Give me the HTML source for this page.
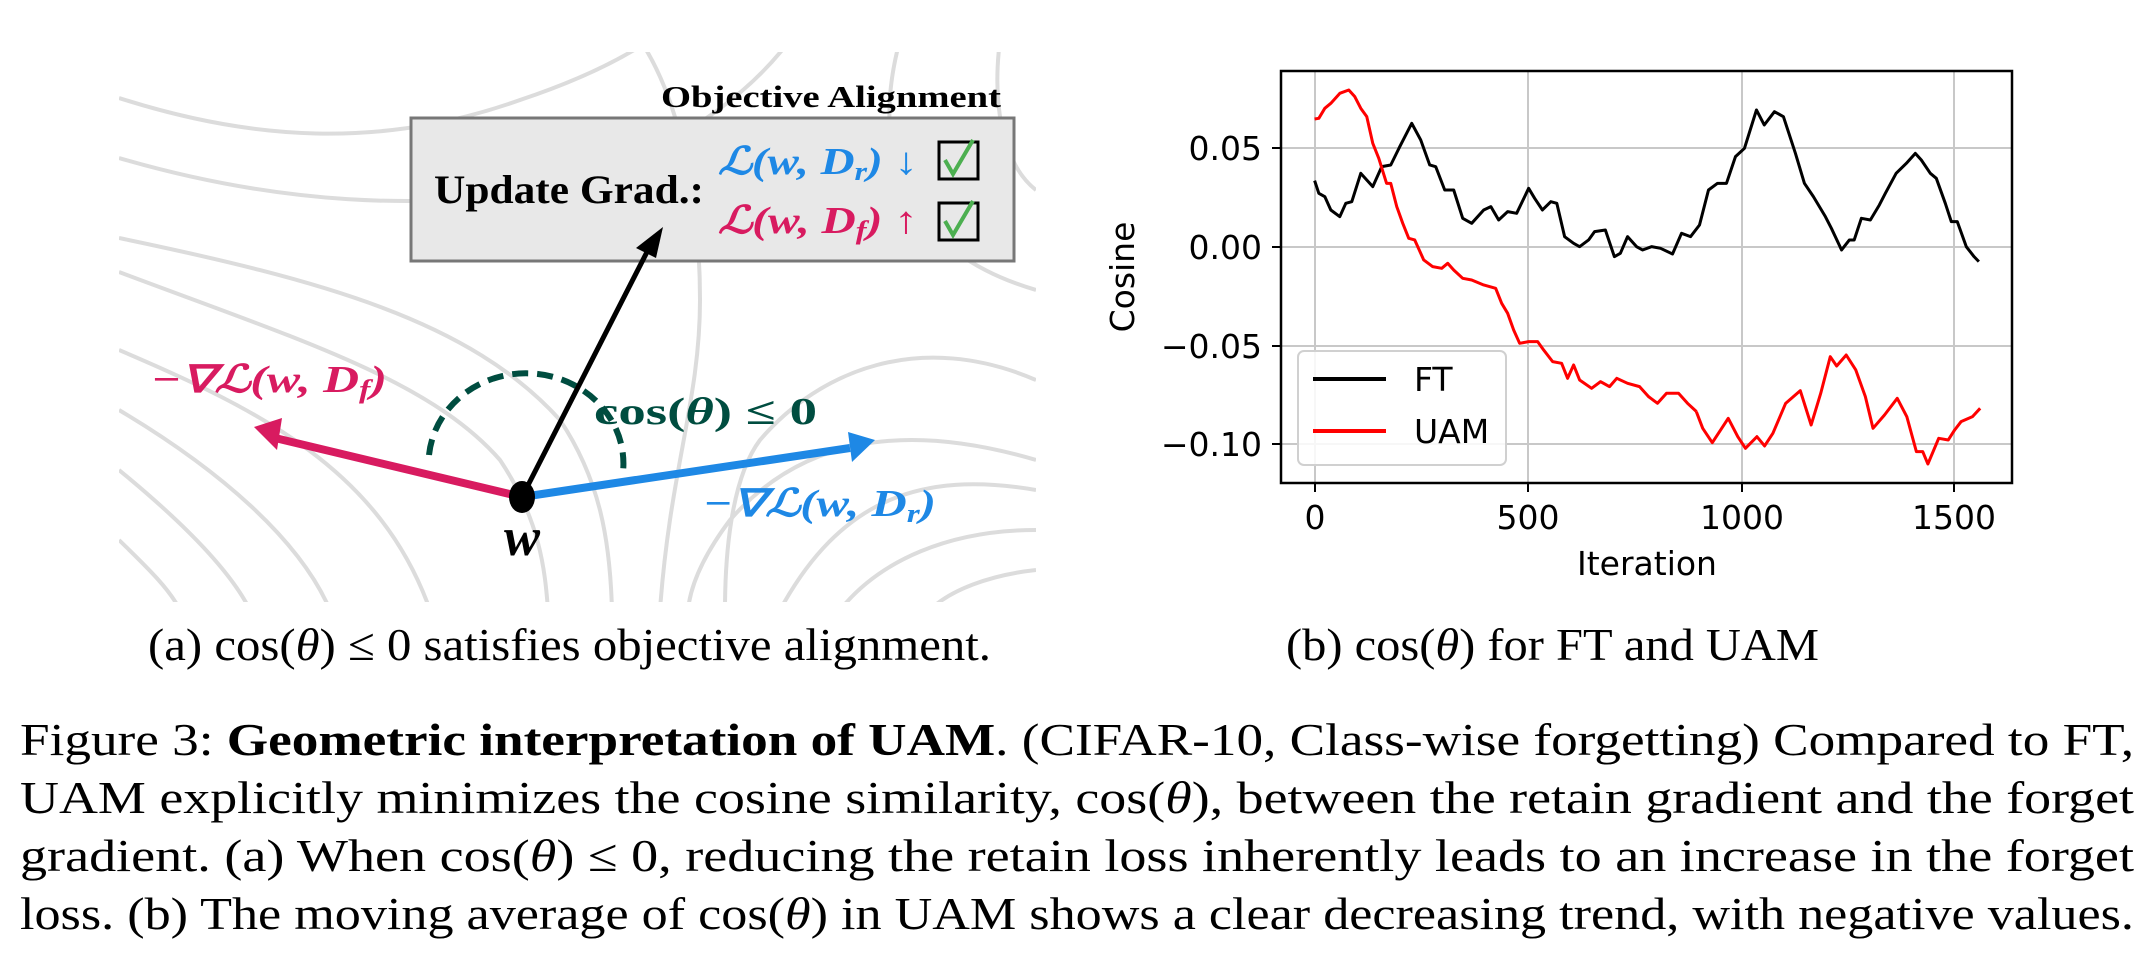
<!DOCTYPE html>
<html><head><meta charset="utf-8"><style>
html,body{margin:0;padding:0;background:#fff;}
body{width:2152px;height:962px;position:relative;overflow:hidden;}
</style></head><body>
<svg width="2152" height="962" style="position:absolute;left:0;top:0">
<defs><clipPath id="cp"><rect x="119" y="52" width="917" height="550"/></clipPath>
<clipPath id="ax"><rect x="1281" y="71" width="731" height="412"/></clipPath></defs>
<g clip-path="url(#cp)" fill="none" stroke="#dcdcdc" stroke-width="4">
<path d="M119,98 C250,140 380,150 520,100 C580,80 620,60 650,40"/>
<path d="M119,158 C280,205 420,210 560,190 C700,140 760,80 790,40"/>
<path d="M119,238 C320,280 470,320 560,420 C600,480 610,540 612,610"/>
<path d="M119,272 C300,340 430,380 500,460 C540,520 545,570 548,610"/>
<path d="M119,350 C260,410 380,470 430,610"/>
<path d="M119,410 C220,470 300,540 330,610"/>
<path d="M119,470 C180,520 230,570 250,610"/>
<path d="M119,540 C150,570 170,590 180,610"/>
<path d="M640,40 C680,100 700,200 700,300 C700,400 670,470 660,610"/>
<path d="M900,40 C870,150 900,250 1036,290"/>
<path d="M1000,40 C990,120 1010,170 1036,190"/>
<path d="M1036,460 C900,420 800,440 730,520 C700,560 690,590 688,610"/>
<path d="M1036,490 C920,470 840,500 780,610"/>
<path d="M1036,530 C950,530 880,560 840,610"/>
<path d="M1036,570 C990,575 950,590 930,610"/>
<path d="M1036,380 C920,330 820,370 760,440 C730,480 725,560 725,610"/>
</g>
<rect x="411" y="118" width="603" height="143" fill="#e8e8e8" stroke="#777" stroke-width="3"/>
<text x="1001" y="107" text-anchor="end" font-family="Liberation Serif,serif" font-weight="bold" font-size="31" textLength="340" lengthAdjust="spacingAndGlyphs">Objective Alignment</text>
<text x="434" y="203" font-family="Liberation Serif,serif" font-weight="bold" font-size="40" textLength="270" lengthAdjust="spacingAndGlyphs">Update Grad.:</text>
<text x="718" y="174" fill="#1e88e5" font-family="Liberation Serif,serif" font-weight="bold" font-style="italic" font-size="38" textLength="200" lengthAdjust="spacingAndGlyphs">ℒ(w, D<tspan font-size="26" dy="6">r</tspan><tspan dy="-6">) ↓</tspan></text>
<text x="718" y="233" fill="#d81b60" font-family="Liberation Serif,serif" font-weight="bold" font-style="italic" font-size="38" textLength="200" lengthAdjust="spacingAndGlyphs">ℒ(w, D<tspan font-size="26" dy="6">f</tspan><tspan dy="-6">) ↑</tspan></text>
<rect x="939" y="142" width="39" height="37" fill="none" stroke="#000" stroke-width="3"/>
<rect x="939" y="203" width="39" height="37" fill="none" stroke="#000" stroke-width="3"/>
<path d="M945,160 l8,14 l20,-34" fill="none" stroke="#4caf50" stroke-width="4"/>
<path d="M945,221 l8,14 l20,-34" fill="none" stroke="#4caf50" stroke-width="4"/>
<path d="M429,455 A95,88 0 0 1 623,472" fill="none" stroke="#004d40" stroke-width="6" stroke-dasharray="16,9"/>
<line x1="522" y1="497" x2="648" y2="250" stroke="#000" stroke-width="5"/>
<polygon points="663,227 636,248 656,258" fill="#000"/>
<line x1="522" y1="497" x2="275" y2="438" stroke="#d81b60" stroke-width="8"/>
<polygon points="254,427 282,418 277,450" fill="#d81b60"/>
<line x1="522" y1="497" x2="850" y2="448" stroke="#1e88e5" stroke-width="8"/>
<polygon points="875,440 848,432 852,462" fill="#1e88e5"/>
<ellipse cx="522" cy="497" rx="13" ry="16" fill="#000"/>
<text x="522" y="555" text-anchor="middle" font-family="Liberation Serif,serif" font-weight="bold" font-style="italic" font-size="54">w</text>
<text x="594" y="424" fill="#004d40" font-family="Liberation Serif,serif" font-weight="bold" font-size="38" textLength="223" lengthAdjust="spacingAndGlyphs">cos(<tspan font-style="italic">θ</tspan>) ≤ 0</text>
<text x="151" y="392" fill="#d81b60" font-family="Liberation Serif,serif" font-weight="bold" font-style="italic" font-size="38" textLength="236" lengthAdjust="spacingAndGlyphs">−∇ℒ(w, D<tspan font-size="26" dy="6">f</tspan><tspan dy="-6">)</tspan></text>
<text x="703" y="516" fill="#1e88e5" font-family="Liberation Serif,serif" font-weight="bold" font-style="italic" font-size="38" textLength="233" lengthAdjust="spacingAndGlyphs">−∇ℒ(w, D<tspan font-size="26" dy="6">r</tspan><tspan dy="-6">)</tspan></text>

<g stroke="#c8c8c8" stroke-width="2">
<line x1="1315" y1="71" x2="1315" y2="483"/><line x1="1528" y1="71" x2="1528" y2="483"/>
<line x1="1742" y1="71" x2="1742" y2="483"/><line x1="1954" y1="71" x2="1954" y2="483"/>
<line x1="1281" y1="148" x2="2012" y2="148"/><line x1="1281" y1="247" x2="2012" y2="247"/>
<line x1="1281" y1="346" x2="2012" y2="346"/><line x1="1281" y1="444" x2="2012" y2="444"/>
</g>
<g clip-path="url(#ax)" fill="none" stroke-width="3" stroke-linejoin="round">
<g transform="translate(1100,40) scale(0.5995,0.3333)">
<polyline vector-effect="non-scaling-stroke" stroke="#000" points="358,422 365,460 375,470 385,510 400,530 410,490 420,485 435,400 455,440 470,380 485,375 500,320 520,250 535,300 550,375 560,380 575,450 590,450 605,535 620,550 640,510 652,500 665,540 680,515 695,520 715,445 725,475 738,510 752,485 762,490 775,590 790,610 800,620 815,600 825,575 843,570 858,650 868,640 880,590 895,620 905,630 920,620 935,625 955,642 970,580 985,590 1000,555 1015,450 1030,430 1045,430 1060,350 1075,325 1095,210 1108,255 1125,215 1140,230 1160,340 1175,430 1190,470 1210,530 1220,565 1237,630 1250,600 1258,600 1270,535 1285,540 1300,495 1310,460 1328,400 1345,370 1360,340 1370,360 1385,400 1395,415 1410,490 1420,545 1430,545 1445,620 1458,650 1466,665"/>
<polyline vector-effect="non-scaling-stroke" stroke="#f00" points="358,237 365,235 375,205 385,190 400,160 415,150 425,170 435,205 445,230 455,310 465,355 478,430 485,430 495,500 505,550 515,595 525,600 540,660 555,680 570,685 580,670 590,690 605,715 620,720 640,735 660,745 670,790 680,820 690,870 700,910 715,905 730,905 740,930 755,965 770,970 780,1015 790,975 800,1020 820,1045 835,1025 850,1040 862,1015 880,1030 900,1040 915,1070 930,1090 945,1060 965,1060 980,1090 995,1115"/>
</g>
<g transform="translate(1100,300) scale(0.6378,0.3333)">
<polyline vector-effect="non-scaling-stroke" stroke="#f00" points="935,335 945,385 960,428 985,355 1000,410 1012,445 1030,410 1042,438 1055,400 1075,310 1098,272 1115,375 1130,280 1145,170 1155,198 1170,165 1185,210 1200,290 1212,385 1230,345 1250,295 1265,350 1280,455 1290,455 1298,492 1315,415 1330,420 1340,390 1350,365 1368,350 1380,325"/>
</g>
</g>
<rect x="1281" y="71" width="731" height="412" fill="none" stroke="#000" stroke-width="2.5"/>
<g stroke="#000" stroke-width="2">
<line x1="1315" y1="483" x2="1315" y2="492"/><line x1="1528" y1="483" x2="1528" y2="492"/>
<line x1="1742" y1="483" x2="1742" y2="492"/><line x1="1954" y1="483" x2="1954" y2="492"/>
<line x1="1272" y1="148" x2="1281" y2="148"/><line x1="1272" y1="247" x2="1281" y2="247"/>
<line x1="1272" y1="346" x2="1281" y2="346"/><line x1="1272" y1="444" x2="1281" y2="444"/>
</g>
<g font-family="DejaVu Sans,sans-serif" font-size="33" fill="#000">
<g text-anchor="middle"><text x="1315" y="529">0</text><text x="1528" y="529">500</text><text x="1742" y="529">1000</text><text x="1954" y="529">1500</text>
<text x="1647" y="575">Iteration</text></g>
<g text-anchor="end"><text x="1262" y="160">0.05</text><text x="1262" y="259">0.00</text><text x="1262" y="358">−0.05</text><text x="1262" y="456">−0.10</text></g>
<text transform="translate(1134,277) rotate(-90)" text-anchor="middle">Cosine</text>
</g>
<rect x="1298" y="351" width="208" height="114" rx="6" fill="#fff" fill-opacity="0.85" stroke="#d0d0d0" stroke-width="2"/>
<line x1="1313" y1="379" x2="1386" y2="379" stroke="#000" stroke-width="4"/>
<line x1="1313" y1="431" x2="1386" y2="431" stroke="#f00" stroke-width="4"/>
<text x="1414" y="391" font-family="DejaVu Sans,sans-serif" font-size="33">FT</text>
<text x="1414" y="443" font-family="DejaVu Sans,sans-serif" font-size="33">UAM</text>

<g font-family="Liberation Serif,serif" font-size="46" fill="#000">
<text x="148" y="660" textLength="843" lengthAdjust="spacingAndGlyphs">(a) cos(<tspan font-style="italic">θ</tspan>) ≤ 0 satisfies objective alignment.</text>
<text x="1286" y="660" textLength="533" lengthAdjust="spacingAndGlyphs">(b) cos(<tspan font-style="italic">θ</tspan>) for FT and UAM</text>
<text x="20" y="755" textLength="2114" lengthAdjust="spacingAndGlyphs">Figure 3: <tspan font-weight="bold">Geometric interpretation of UAM</tspan>. (CIFAR-10, Class-wise forgetting) Compared to FT,</text>
<text x="20" y="813" textLength="2114" lengthAdjust="spacingAndGlyphs">UAM explicitly minimizes the cosine similarity, cos(<tspan font-style="italic">θ</tspan>), between the retain gradient and the forget</text>
<text x="20" y="871" textLength="2114" lengthAdjust="spacingAndGlyphs">gradient. (a) When cos(<tspan font-style="italic">θ</tspan>) ≤ 0, reducing the retain loss inherently leads to an increase in the forget</text>
<text x="20" y="929" textLength="2114" lengthAdjust="spacingAndGlyphs">loss. (b) The moving average of cos(<tspan font-style="italic">θ</tspan>) in UAM shows a clear decreasing trend, with negative values.</text>
</g>
</svg>
</body></html>
